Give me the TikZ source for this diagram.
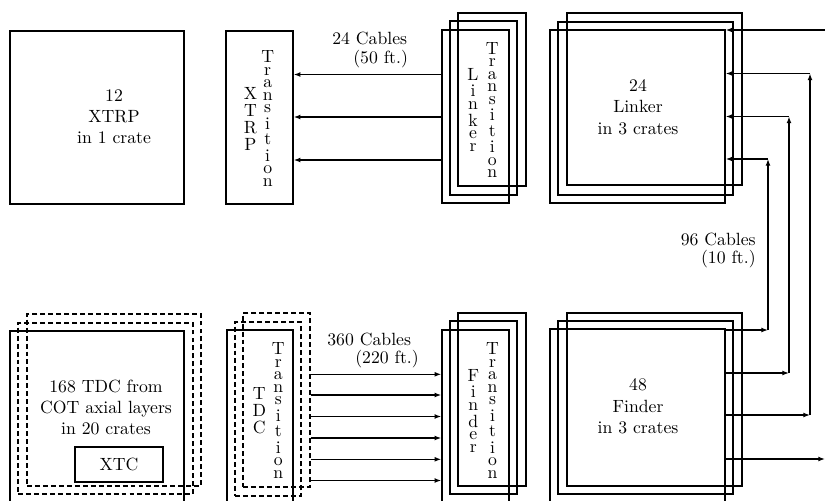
\documentclass[tikz,border=0pt]{standalone}
\usetikzlibrary{arrows.meta,fit}
\newcommand{\lstack}[1]{\vbox{\baselineskip=-1000pt\lineskiplimit=0pt\lineskip=2.6pt\halign{\hfil##\hfil\cr#1\crcr}}}
\newcommand{\TransStack}{\lstack{T\cr r\cr a\cr n\cr s\cr i\cr t\cr i\cr o\cr n}}
\begin{document}
\begin{tikzpicture}[x=0.565pt,y=-0.565pt,
  frame/.style={draw, line width=0.85pt, inner sep=0pt},
  dframe/.style={frame, dash pattern=on 2.8pt off 1.7pt},
  arr/.style={line width=0.7pt, -{Latex[length=3.8pt,width=2.8pt]}},
  lbl/.style={inner sep=0pt, align=center},
  cab/.style={inner sep=0pt}]
\useasboundingbox (0,0) rectangle (825,500);
\clip (0,0) rectangle (825,500);

% ---------- top row ----------
\node[frame, fit={(10,31)(184,204)}] (xtrp) {};
\node[lbl] (xtrpT) at (114,116.5) {12\\XTRP\\in 1 crate};

\node[frame, fit={(226,31)(293,204)}] (xtt) {};
\node[lbl] (xttA) at (250.5,119) {\lstack{X\cr T\cr R\cr P}};
\node[lbl] (xttB) at (267.7,118.4) {\TransStack};

\node[frame, fit={(458,13)(526,186)}] (ltb) {};
\node[frame, fit={(450,21)(517,195)}] (ltm) {};
\node[frame, fit={(442,30)(509,203)}] (ltf) {};
\node[lbl] (ltA) at (473,110) {\lstack{L\cr i\cr n\cr k\cr e\cr r}};
\node[lbl] (ltB) at (492.3,110) {\TransStack};

\node[frame, fit={(567,13)(742,185)}] (lkb) {};
\node[frame, fit={(558,22)(733,195)}] (lkm) {};
\node[frame, fit={(550,30)(725,203)}] (lkf) {};
\node[lbl] (lkT) at (638,107) {24\\Linker\\in 3 crates};

% ---------- bottom row ----------
\node[dframe, fit={(27,314)(201,486)}] (tdb) {};
\node[dframe, fit={(18,323)(193,494)}] (tdm) {};
\node[frame, fit={(10,331)(184,520)}] (tdf) {};
\node[lbl] (tdT) at (106,407.5) {168 TDC from\\COT axial layers\\in 20 crates};
\node[frame, fit={(75,447)(163,482)}] (xtc) {};
\node[lbl] (xtcT) at (xtc.center) {XTC};

\node[dframe, fit={(243,313)(310,487)}] (ttb) {};
\node[dframe, fit={(235,322)(301,496)}] (ttm) {};
\node[frame, fit={(227,330)(293,520)}] (ttf) {};
\node[lbl] (ttA) at (259.3,410.8) {\lstack{T\cr D\cr C}};
\node[lbl] (ttB) at (278.3,410.5) {\TransStack};

\node[frame, fit={(458,313)(526,486)}] (ftb) {};
\node[frame, fit={(450,321)(517,494)}] (ftm) {};
\node[frame, fit={(442,330)(509,520)}] (ftf) {};
\node[lbl] (ftA) at (473.3,411) {\lstack{F\cr i\cr n\cr d\cr e\cr r}};
\node[lbl] (ftB) at (492.5,410.5) {\TransStack};

\node[frame, fit={(567,313)(742,486)}] (fnb) {};
\node[frame, fit={(558,321)(733,494)}] (fnm) {};
\node[frame, fit={(550,329)(725,520)}] (fnf) {};
\node[lbl] (fnT) at (638,406.3) {48\\Finder\\in 3 crates};

% ---------- cable labels ----------
\node[cab, anchor=base west] (c24a) at (332,44) {24 Cables};
\node[cab, anchor=base west] (c24b) at (353,63) {(50 ft.)};
\node[cab, anchor=base west] (c360a) at (327,345) {360 Cables};
\node[cab, anchor=base west] (c360b) at (355,363) {(220 ft.)};
\node[cab, anchor=base east] (c96a) at (756,245) {96 Cables};
\node[cab, anchor=base east] (c96b) at (756,263) {(10 ft.)};

% ---------- cables Linker transition -> XTRP transition ----------
\foreach \yy in {74.5,117,160}
  \draw[arr] (ltf.west |- 0,\yy) -- (xtt.east |- 0,\yy);

% ---------- cables TDC transition -> Finder transition ----------
\foreach \yy in {374.3,395,416.5,438,459.3,480.5}
  \draw[arr] (ttb.east |- 0,\yy) -- (ftf.west |- 0,\yy);

% ---------- Finder -> Linker and outside ----------
\coordinate (inR) at (825,30);
\coordinate (outR) at (825,459);
\coordinate (b1) at (768,330);
\coordinate (b2) at (768,159);
\coordinate (c1) at (789,373);
\coordinate (c2) at (789,116.5);
\coordinate (d1) at (810,415);
\coordinate (d2) at (810,73.5);

\draw[arr] (inR) -- (lkf.east |- inR);

\draw[arr] (fnf.east |- b1) -- (b1);
\draw[arr] (b1) -- (b2);
\draw[arr] (b2) -- (lkf.east |- b2);

\draw[arr] (fnf.east |- c1) -- (c1);
\draw[arr] (c1) -- (c2);
\draw[arr] (c2) -- (lkf.east |- c2);

\draw[arr] (fnf.east |- d1) -- (d1);
\draw[arr] (d1) -- (d2);
\draw[arr] (d2) -- (lkf.east |- d2);

\draw[arr] (fnf.east |- outR) -- (outR);
\end{tikzpicture}
\end{document}
